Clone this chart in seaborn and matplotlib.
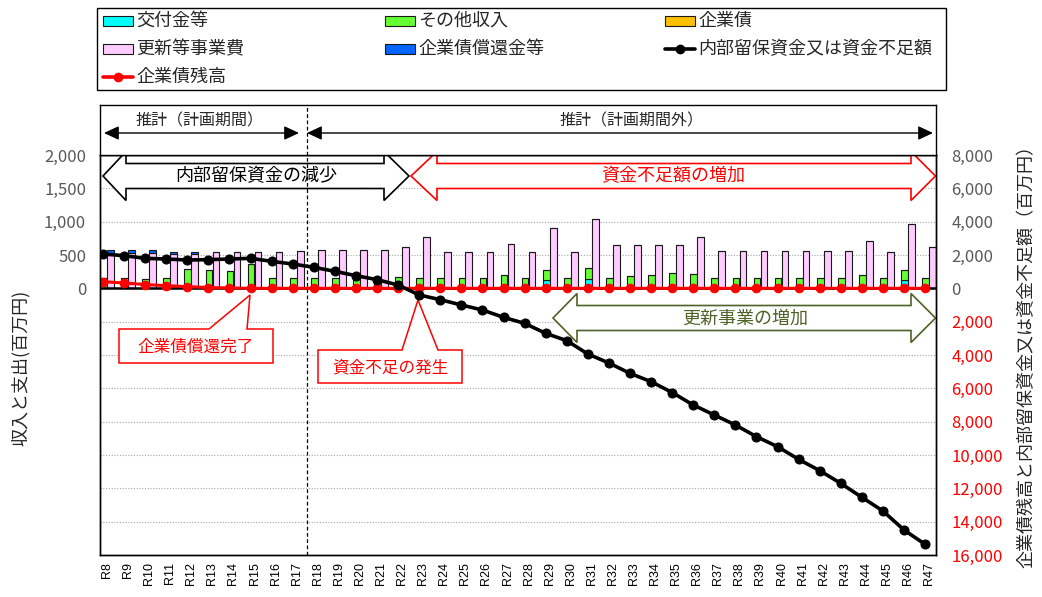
import matplotlib
matplotlib.use("Agg")
import matplotlib.pyplot as plt
from matplotlib.patches import Polygon, Rectangle
from matplotlib.lines import Line2D
import numpy as np
import pandas as pd
import seaborn as sns

# ---------------- data (百万円) ----------------
years = [f"R{n}" for n in range(8, 48)]

# 収入
grants = [0, 0, 0, 0, 0, 0, 0, 0, 0, 0,
          0, 0, 0, 0, 0, 0, 0, 0, 0, 0,
          0, 120, 0, 140, 0, 0, 0, 0, 50, 0,
          0, 0, 0, 0, 0, 0, 0, 0, 130, 0]
other_income = [155, 155, 140, 155, 290, 275, 255, 365, 155, 155,
                155, 155, 140, 140, 175, 155, 155, 155, 155, 195,
                155, 150, 155, 160, 155, 180, 200, 225, 170, 155,
                155, 155, 155, 155, 155, 155, 200, 155, 145, 155]
bonds = [0, 0, 0, 0, 0, 0, 0, 0, 0, 0,
         0, 0, 0, 0, 0, 0, 0, 0, 0, 0,
         0, 0, 0, 0, 0, 0, 0, 0, 0, 0,
         0, 0, 0, 0, 0, 0, 0, 0, 0, 0]

# 支出
renewal_cost = [530, 530, 530, 515, 515, 550, 550, 545, 550, 555,
                580, 580, 580, 580, 620, 775, 540, 540, 540, 660,
                540, 905, 540, 1040, 655, 655, 655, 655, 775, 560,
                560, 560, 560, 560, 560, 560, 715, 540, 960, 615]
bond_redemption = [45, 45, 45, 35, 35, 0, 0, 0, 0, 0,
                   0, 0, 0, 0, 0, 0, 0, 0, 0, 0,
                   0, 0, 0, 0, 0, 0, 0, 0, 0, 0,
                   0, 0, 0, 0, 0, 0, 0, 0, 0, 0]

# 残高（右軸）
reserve_funds = [2060, 1960, 1800, 1760, 1700, 1720, 1760, 1800, 1620, 1460,
                 1260, 1020, 760, 520, 200, -400, -680, -1000, -1300, -1740,
                 -2100, -2700, -3140, -3940, -4480, -5100, -5600, -6250, -7000, -7600,
                 -8200, -8900, -9500, -10260, -10940, -11700, -12540, -13360, -14500, -15360]
bond_balance = [400, 320, 230, 160, 100, 50, 20, 0, 0, 0,
                0, 0, 0, 0, 0, 0, 0, 0, 0, 0,
                0, 0, 0, 0, 0, 0, 0, 0, 0, 0,
                0, 0, 0, 0, 0, 0, 0, 0, 0, 0]

left_ticks = [0, 500, 1000, 1500, 2000]
right_ticks = list(range(-16000, 8001, 2000))

# ---------------- style ----------------
sns.set_theme(style="white")
plt.rcParams["font.family"] = ["Noto Sans CJK JP", "DejaVu Sans"]

C_CYAN = "#00FFFF"
C_GREEN = "#66FF33"
C_ORANGE = "#FFC000"
C_PINK = "#FFCCFF"
C_BLUE = "#0066FF"
C_RED = "#FF0000"
C_GREY = "#595959"
C_OLIVE = "#4F6228"

W, H = 1042, 597
fig = plt.figure(figsize=(W / 100, H / 100), dpi=100)
fig.patch.set_facecolor("white")

AX_L, AX_R, AX_T, AX_B = 100, 936, 155, 555
ax = fig.add_axes([AX_L / W, 1 - AX_B / H, (AX_R - AX_L) / W, (AX_B - AX_T) / H])


def fig_xy(px, py):
    return px / W, 1 - py / H


def ax_xy(px, py):
    return (px - AX_L) / (AX_R - AX_L), (AX_B - py) / (AX_B - AX_T)


n = len(years)
idx = np.arange(n)
XMIN, XMAX = -0.332, 39.326
bw = 0.32
off = 0.165

df = pd.DataFrame({
    "year": years, "i": idx,
    "grants": grants, "other": other_income, "bonds": bonds,
    "renewal": renewal_cost, "redeem": bond_redemption,
    "reserve": reserve_funds, "balance": bond_balance,
})

# ---------------- stacked bars (left axis) ----------------
edge = dict(edgecolor="#1a1a1a", linewidth=0.8, zorder=2)
g = np.array(grants)
o = np.array(other_income)
b = np.array(bonds)
ax.bar(idx - off, g, width=bw, color=C_CYAN, **edge)
ax.bar(idx - off, o, width=bw, bottom=g, color=C_GREEN, **edge)
ax.bar(idx - off, b, width=bw, bottom=g + o, color=C_ORANGE, **edge)
r = np.array(renewal_cost)
ax.bar(idx + off, r, width=bw, color=C_PINK, **edge)
ax.bar(idx + off, bond_redemption, width=bw, bottom=r, color=C_BLUE, **edge)

ax.set_xlim(XMIN, XMAX)
ax.set_ylim(-4000, 2000)
ax.set_yticks(np.arange(-4000, 2001, 500))
ax.set_yticklabels([f"{v:,}" if v in left_ticks else "" for v in np.arange(-4000, 2001, 500)])
ax.grid(axis="y", color="#A6A6A6", linestyle=(0, (1, 1.5)), linewidth=0.8)
ax.grid(axis="x", visible=False)
ax.set_axisbelow(True)
ax.axhline(0, color="black", lw=1.8, zorder=2.5)
ax.tick_params(axis="y", length=0, pad=10, labelsize=12, labelcolor=C_GREY)
ax.set_xticks(idx)
ax.set_xticklabels(years, rotation=90, fontsize=9, family="Liberation Sans", color="black")
ax.tick_params(axis="x", length=0, pad=5)
for sp in ax.spines.values():
    sp.set_color("black")
    sp.set_linewidth(1.0)

# phase divider
DIV_X = 9.47
ax.axvline(DIV_X, color="black", lw=0.9, ls=(0, (3, 2)), zorder=4)

# ---------------- lines (right axis) ----------------
ax2 = ax.twinx()
ax2.set_ylim(-16000, 8000)
df["xl"] = df["i"] - 0.19
sns.lineplot(data=df, x="xl", y="balance", ax=ax2, color=C_RED, lw=2.2,
             marker="o", markersize=6.2, markeredgecolor=C_RED, sort=False, legend=False)
sns.lineplot(data=df, x="xl", y="reserve", ax=ax2, color="black", lw=2.6,
             marker="o", markersize=6.5, markeredgecolor="black", sort=False, legend=False)
ax2.set_xlim(XMIN, XMAX)
ax2.set_xlabel("")
ax2.set_ylabel("")
ax2.set_yticks(right_ticks)
ax2.set_yticklabels([f"{abs(v):,}" for v in right_ticks])
ax2.tick_params(axis="y", length=0, pad=11, labelsize=12)
for v, lab in zip(right_ticks, ax2.get_yticklabels()):
    lab.set_color(C_RED if v < 0 else C_GREY)
ax2.grid(False)
for sp in ax2.spines.values():
    sp.set_color("black")
    sp.set_linewidth(1.0)

# ---------------- hollow double arrows ----------------
def double_arrow(lt, lb, rb, rt, cy, sh, hh, color):
    pts = [(lt, cy), (lb, cy - hh), (lb, cy - sh), (rb, cy - sh), (rb, cy - hh),
           (rt, cy), (rb, cy + hh), (rb, cy + sh), (lb, cy + sh), (lb, cy + hh)]
    poly = Polygon([ax_xy(x, y) for x, y in pts], closed=True, transform=ax.transAxes,
                   facecolor="white", edgecolor=color, lw=1.2, zorder=3, clip_on=False)
    ax.add_patch(poly)


double_arrow(103, 126, 384, 409, 176, 12.5, 24.5, "black")
double_arrow(411, 437, 911, 935.5, 176, 12.5, 24.5, C_RED)
double_arrow(553, 577, 911, 935.5, 318, 12.5, 24.5, C_OLIVE)

fig.text(*fig_xy(256, 176), "内部留保資金の減少", ha="center", va="center", fontsize=13, color="black")
fig.text(*fig_xy(673, 176), "資金不足額の増加", ha="center", va="center", fontsize=13, color=C_RED)
fig.text(*fig_xy(745, 319), "更新事業の増加", ha="center", va="center", fontsize=13, color=C_OLIVE)

# ---------------- callouts ----------------
def callout(x0, x1, y0, y1, p1, p2, tip, text):
    pts = [(x0, y0), (p1, y0), tip, (p2, y0), (x1, y0), (x1, y1), (x0, y1)]
    poly = Polygon([ax_xy(x, y) for x, y in pts], closed=True, transform=ax.transAxes,
                   facecolor="white", edgecolor=C_RED, lw=1.1, zorder=3, clip_on=False)
    ax.add_patch(poly)
    fig.text(*fig_xy((x0 + x1) / 2, (y0 + y1) / 2 + 1), text, ha="center", va="center",
             fontsize=12, color=C_RED)


callout(119, 273, 329, 363, 209, 247, (250, 295), "企業債償還完了")
callout(318, 462, 350, 383, 402, 438, (418, 300), "資金不足の発生")

# ---------------- period band above the plot ----------------
axt = fig.add_axes([AX_L / W, 1 - AX_T / H, (AX_R - AX_L) / W, (AX_T - 105) / H])
axt.set_xlim(XMIN, XMAX)
axt.set_ylim(0, 1)
axt.set_xticks([])
axt.set_yticks([])
axt.set_facecolor("white")
for sp in axt.spines.values():
    sp.set_color("black")
    sp.set_linewidth(1.0)
axt.axvline(DIV_X, color="black", lw=0.9, ls=(0, (3, 2)))

arrow_style = dict(arrowstyle="<|-|>,head_length=0.75,head_width=0.35", color="black",
                   lw=1.0, shrinkA=0, shrinkB=0, mutation_scale=12)
axt.annotate("", xy=fig_xy(104, 133), xytext=fig_xy(299, 133),
             xycoords="figure fraction", textcoords="figure fraction", arrowprops=arrow_style)
axt.annotate("", xy=fig_xy(307, 133), xytext=fig_xy(933, 133),
             xycoords="figure fraction", textcoords="figure fraction", arrowprops=arrow_style)
fig.text(*fig_xy(200, 121), "推計（計画期間）", ha="center", va="center", fontsize=11.5)
fig.text(*fig_xy(632, 121), "推計（計画期間外）", ha="center", va="center", fontsize=11.5)

# ---------------- axis titles ----------------
fig.text(*fig_xy(21, 368), "収入と支出(百万円)", rotation=90, ha="center", va="center", fontsize=13)
fig.text(*fig_xy(1027, 352), "企業債残高と内部留保資金又は資金不足額（百万円）", rotation=90,
         ha="center", va="center", fontsize=13)

# ---------------- legend ----------------
leg_box = Rectangle(fig_xy(97, 90), (946 - 97) / W, (90 - 8) / H, transform=fig.transFigure,
                    facecolor="white", edgecolor="black", lw=1.0)
fig.add_artist(leg_box)

col_x = [103, 385, 665]
row_y = [21, 49, 77]
HW, HH = 30, 10
entries = [
    (0, 0, "交付金等", "patch", C_CYAN),
    (1, 0, "その他収入", "patch", C_GREEN),
    (2, 0, "企業債", "patch", C_ORANGE),
    (0, 1, "更新等事業費", "patch", C_PINK),
    (1, 1, "企業債償還金等", "patch", C_BLUE),
    (2, 1, "内部留保資金又は資金不足額", "line", "black"),
    (0, 2, "企業債残高", "line", C_RED),
]
for c, rr, label, kind, color in entries:
    x0 = col_x[c]
    yc = row_y[rr]
    if kind == "patch":
        fig.add_artist(Rectangle(fig_xy(x0, yc + HH / 2), HW / W, HH / H, transform=fig.transFigure,
                                 facecolor=color, edgecolor="#1a1a1a", lw=0.8))
    else:
        fig.add_artist(Line2D([x0 / W, (x0 + HW) / W], [1 - yc / H, 1 - yc / H],
                              transform=fig.transFigure, color=color, lw=2.6))
        fig.add_artist(Line2D([(x0 + HW / 2) / W], [1 - yc / H], transform=fig.transFigure,
                              color=color, marker="o", markersize=6))
    fig.text(*fig_xy(x0 + HW + 3, yc), label, ha="left", va="center", fontsize=13)

fig.savefig("out.png", dpi=100, facecolor="white")
